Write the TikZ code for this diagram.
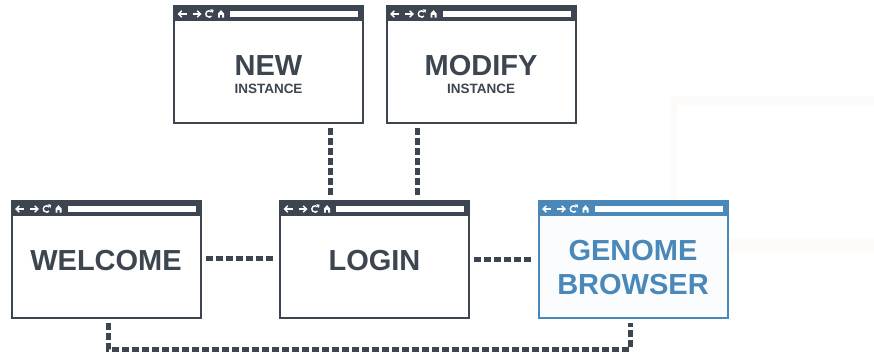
\documentclass[tikz,border=0pt]{standalone}
\usepackage{fontspec}
\setmainfont{Liberation Sans}
\definecolor{dk}{HTML}{3D4650}
\definecolor{bl}{HTML}{4A88BA}
\definecolor{blfill}{HTML}{FAFCFE}
\definecolor{faint}{HTML}{FCFBFA}
\newcommand\winbar[2]{%
  \fill[#2] ([yshift=1pt]#1.north west) rectangle ([yshift=-15pt]#1.north east);
  \fill[white] ([xshift=57pt,yshift=-5pt]#1.north west) rectangle ([xshift=-6pt,yshift=-11pt]#1.north east);
  \begin{scope}[shift={([yshift=-8pt]#1.north west)}, white, line width=1.4pt]
    % back arrow
    \draw (13.5,0) -- (5.5,0);
    \draw[line join=miter] (8.8,-3.2) -- (5.5,0) -- (8.8,3.2);
    % forward arrow
    \draw (19.5,0) -- (27.5,0);
    \draw[line join=miter] (24.2,-3.2) -- (27.5,0) -- (24.2,3.2);
    % refresh
    \draw (36,0) ++(-40:3.2) arc[start angle=-40, end angle=-320, radius=3.2];
    \fill (37.2,-4.6) -- (40.6,-4.4) -- (39.9,-1.0) -- cycle;
    % home
    \fill (45,3.6) -- (45,-0.6) -- (48,-3.8) -- (51,-0.6) -- (51,3.6) -- (49.2,3.6) -- (49.2,0.8) -- (46.8,0.8) -- (46.8,3.6) -- cycle;
  \end{scope}}
\begin{document}
\begin{tikzpicture}[x=1pt,y=-1pt,
  win/.style={draw=#1, line width=2pt, minimum width=189pt, minimum height=116pt, inner sep=0pt},
  conn/.style={draw=dk, line width=5pt, dash pattern=on 7pt off 3pt},
  big/.style={font=\bfseries\fontsize{29}{34}\selectfont, text=#1, inner sep=0pt, anchor=base},
  big/.default=dk,
  small/.style={font=\bfseries\fontsize{13.5}{16}\selectfont, text=dk, inner sep=0pt, anchor=base},
]
\useasboundingbox[fill=white] (0,0) rectangle (874,356);
% faint background frame
\fill[faint, even odd rule] (671,96) rectangle (874,252) (677,105) rectangle (874,238);

% windows
\node[win=dk, fill=white] (new) at (268.5,65) {};
\node[win=dk, fill=white] (modify) at (481,65) {};
\node[win=dk, fill=white] (welcome) at (106,260) {};
\node[win=dk, fill=white] (login) at (374.5,260) {};
\node[win=bl, fill=blfill] (genome) at (633,260) {};

\winbar{new}{dk}
\winbar{modify}{dk}
\winbar{welcome}{dk}
\winbar{login}{dk}
\winbar{genome}{bl}

% labels
\node[big] (newt) at (268.5,75) {NEW};
\node[small] (newi) at (268.5,93) {INSTANCE};
\node[big] (modt) at (481,75) {MODIFY};
\node[small] (modi) at (481,93) {INSTANCE};
\node[big] (welt) at (106,270) {WELCOME};
\node[big] (logt) at (374.5,270) {LOGIN};
\node[big=bl] (gent) at (633,260) {GENOME};
\node[big=bl] (brot) at (633,294) {BROWSER};

% connectors
\draw[conn] ([xshift=61.5pt,yshift=-4pt]new.south) -- ([xshift=-44.5pt,yshift=3pt]login.north);
\draw[conn] ([xshift=-64pt,yshift=-4pt]modify.south) -- ([xshift=42.5pt,yshift=3pt]login.north);
\draw[conn] ([xshift=4pt,yshift=2pt]welcome.east) -- ([xshift=-4pt,yshift=2pt]login.west);
\draw[conn] ([xshift=4pt,yshift=1pt]login.east) -- ([xshift=-4pt,yshift=1pt]genome.west);
\draw[conn] ([xshift=2pt,yshift=-4pt]welcome.south) -- ++(0,26) -| ([xshift=-3pt,yshift=-4pt]genome.south);
\end{tikzpicture}
\end{document}
